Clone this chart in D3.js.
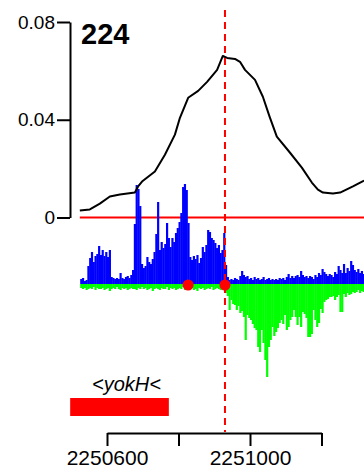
<!DOCTYPE html>
<html>
<head>
<meta charset="utf-8">
<script src="https://cdn.jsdelivr.net/npm/d3@7"></script>
<style>
  html, body { margin: 0; padding: 0; background: #fff; }
  svg { display: block; font-family: "Liberation Sans", Arial, sans-serif; }
</style>
</head>
<body>
<svg id="chart" width="364" height="473"></svg>
<script>
// ---- data ----
const title = "224";
const yTicks = [0, 0.04, 0.08];
const yTickLabels = ["0", "0.04", "0.08"];
const xTicks = [2250600, 2250800, 2251000, 2251200];
const xTickLabels = ["2250600", "", "2251000", ""];

// smoothed signal curve (position, value)
const curvePos = [2250524, 2250552, 2250580, 2250608, 2250636, 2250678, 2250687, 2250698, 2250734, 2250762,
  2250790, 2250804, 2250827, 2250855, 2250880, 2250908, 2250924, 2250936, 2250958, 2250972,
  2250986, 2251014, 2251036, 2251055, 2251075, 2251112, 2251145, 2251173, 2251190, 2251204,
  2251232, 2251252, 2251288, 2251319];
const curveVal = [0.0029, 0.0033, 0.0057, 0.0086, 0.0094, 0.0102, 0.0127, 0.0147, 0.0188, 0.0257,
  0.0339, 0.0408, 0.0490, 0.0518, 0.0555, 0.0604, 0.0661, 0.0653, 0.0649, 0.0637,
  0.0604, 0.0563, 0.0494, 0.0412, 0.0331, 0.0265, 0.0204, 0.0143, 0.0114, 0.0102,
  0.0098, 0.0102, 0.0127, 0.0151];

// read coverage bars, 5 bp bins starting at 2250525
const binStart = 2250525;
const binSize = 5;
const plusCounts = [5,6,3,4,18,26,32,22,28,30, 38,29,34,28,32,27,34,7,6,5,
  6,5,11,6,5,7,8,6,9,14, 60,99,95,78,20,16,18,27,22,20,
  25,32,50,82,34,42,36,40,61,46, 37,46,42,51,56,62,71,97,100,94,
  61,27,24,28,25,29,21,26,37,32, 39,54,52,46,44,41,36,39,31,34,
  51,19,7,4,5,4,6,5,4,8, 13,9,7,8,5,6,4,7,5,6,
  4,5,7,4,5,6,4,5,4,5, 4,6,5,6,4,7,10,6,8,6,
  8,9,7,13,9,7,8,6,8,7, 5,9,7,11,9,15,12,10,8,10,
  9,7,12,10,18,14,11,20,11,16, 13,23,19,14,12,15,11,13,10];
const minusCounts = [4,5,4,6,5,4,5,3,6,4, 5,5,4,6,5,4,7,5,4,5,
  3,5,6,4,5,4,6,5,4,5, 5,6,4,5,3,5,4,6,5,4,
  7,5,4,5,6,4,5,5,3,6, 4,5,4,6,5,4,5,3,6,5,
  4,5,4,6,5,7,4,5,4,6, 5,4,5,3,6,5,4,5,6,4,
  5,9,12,26,16,20,21,26,22,29, 27,33,56,31,34,36,40,44,46,63,
  68,46,59,76,93,63,56,43,52,48, 44,39,36,40,31,46,43,36,33,26,
  33,41,33,43,28,30,34,53,53,50, 26,36,43,39,25,29,18,16,15,13,
  13,12,16,13,11,28,28,10,13,9, 11,10,8,9,8,6,9,7,8];

const markerPos = [2250827, 2250930];
const cutPos = 2250930;
const gene = { name: "<yokH<", start: 2250497, end: 2250773 };

// ---- drawing ----
const svg = d3.select("#chart");

const x = d3.scaleLinear().domain([2250600, 2251200]).range([107, 321.5]);
const y = d3.scaleLinear().domain([0, 0.08]).range([217.5, 22]);
const yb = d3.scaleLinear().domain([-100, 100]).range([384, 184]);
const plotLeft = x(2250524), plotRight = 364;

// red zero line
svg.append("line")
  .attr("x1", plotLeft).attr("x2", plotRight)
  .attr("y1", y(0)).attr("y2", y(0))
  .attr("stroke", "#ff0000").attr("stroke-width", 2);

// green (minus strand) bars
svg.append("g").selectAll("rect").data(minusCounts).join("rect")
  .attr("x", (d, i) => x(binStart + i * binSize))
  .attr("width", (d, i) => x(binStart + (i + 1) * binSize) - x(binStart + i * binSize) + 0.4)
  .attr("y", yb(0))
  .attr("height", d => yb(-d) - yb(0))
  .attr("fill", "#00ff00");

// blue (plus strand) bars
svg.append("g").selectAll("rect").data(plusCounts).join("rect")
  .attr("x", (d, i) => x(binStart + i * binSize))
  .attr("width", (d, i) => x(binStart + (i + 1) * binSize) - x(binStart + i * binSize) + 0.4)
  .attr("y", d => yb(d))
  .attr("height", d => yb(0) - yb(d))
  .attr("fill", "#0000ff");

// curve
svg.append("path")
  .datum(curvePos.map((p, i) => [p, curveVal[i]]))
  .attr("fill", "none").attr("stroke", "#000").attr("stroke-width", 2)
  .attr("stroke-linejoin", "round")
  .attr("d", d3.line().x(d => x(d[0])).y(d => y(d[1])));

// dashed cut line
svg.append("line")
  .attr("x1", x(cutPos)).attr("x2", x(cutPos))
  .attr("y1", 10).attr("y2", 432)
  .attr("stroke", "#ff0000").attr("stroke-width", 2)
  .attr("stroke-dasharray", "7,5");

// markers
svg.append("g").selectAll("circle").data(markerPos).join("circle")
  .attr("cx", d => x(d)).attr("cy", yb(0) + 1).attr("r", 5.5)
  .attr("fill", "#ff0000");

// gene
svg.append("rect")
  .attr("x", x(gene.start)).attr("width", x(gene.end) - x(gene.start))
  .attr("y", 398).attr("height", 18)
  .attr("fill", "#ff0000");
svg.append("text")
  .attr("x", (x(gene.start) + x(gene.end)) / 2 + 7).attr("y", 391)
  .attr("text-anchor", "middle")
  .attr("font-style", "italic").attr("font-size", 20)
  .text(gene.name);

// left axis
const yAxis = d3.axisLeft(y).tickValues(yTicks)
  .tickFormat((d, i) => yTickLabels[i]).tickSize(13).tickSizeOuter(0).tickPadding(2);
const gy = svg.append("g").attr("transform", "translate(70,0)").call(yAxis);
gy.selectAll("path, line").attr("stroke", "#000").attr("stroke-width", 2);
gy.selectAll("text").attr("font-size", 19).attr("fill", "#000")
  .attr("font-family", "Liberation Sans, Arial, sans-serif");

// bottom axis
const xAxis = d3.axisBottom(x).tickValues(xTicks)
  .tickFormat((d, i) => xTickLabels[i]).tickSize(13).tickSizeOuter(0).tickPadding(4);
const gx = svg.append("g").attr("transform", "translate(0,433)").call(xAxis);
gx.selectAll("path, line").attr("stroke", "#000").attr("stroke-width", 2);
gx.selectAll("text").attr("font-size", 21).attr("fill", "#000")
  .attr("font-family", "Liberation Sans, Arial, sans-serif");

// title
svg.append("text")
  .attr("x", 81).attr("y", 44)
  .attr("font-weight", "bold").attr("font-size", 29)
  .text(title);
</script>
</body>
</html>
